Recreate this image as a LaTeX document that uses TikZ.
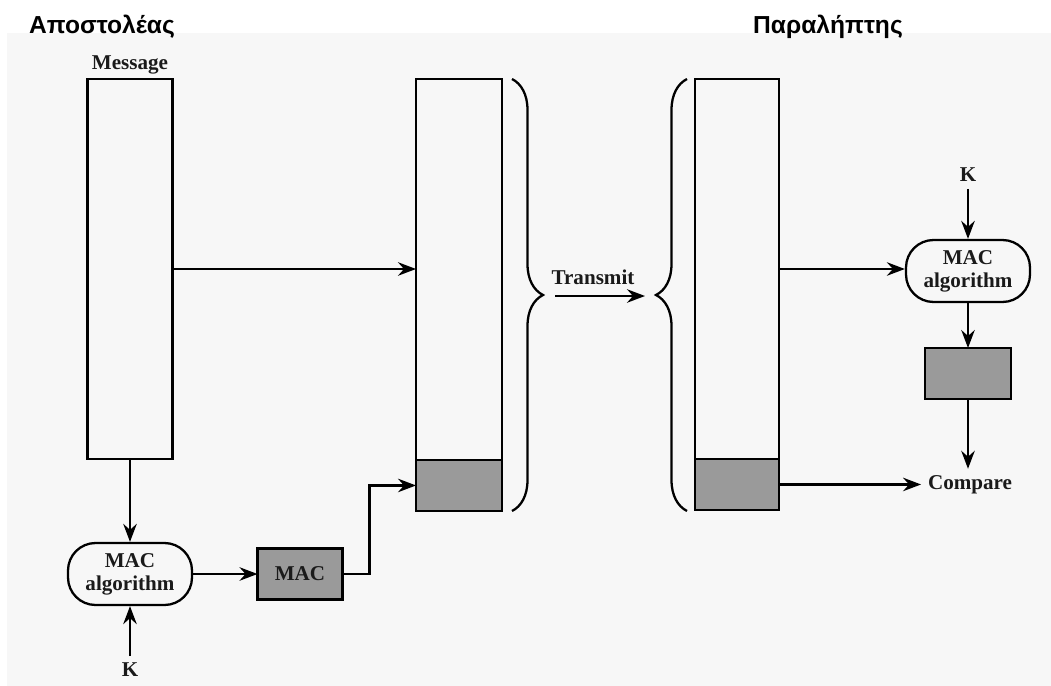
\documentclass[tikz,border=0pt]{standalone}
\usepackage{fontspec}
\setmainfont{Liberation Serif}
\newfontfamily\headfont{Liberation Sans}
\usetikzlibrary{arrows.meta,decorations.pathreplacing,positioning}
\definecolor{panel}{HTML}{F7F7F7}
\definecolor{macgray}{HTML}{9A9A9A}
\definecolor{ink}{HTML}{1A1A1A}

\begin{document}
\begin{tikzpicture}[x=0.02cm, y=-0.02cm, line width=1.3pt,
  every node/.style={font=\fontsize{12}{13}\selectfont\bfseries, text=ink, align=center},
  box/.style={draw, outer sep=0pt, minimum width=1.7cm},
  tagbox/.style={box, fill=macgray, minimum height=1.02cm},
  algo/.style={draw, rounded corners=0.55cm, minimum width=2.48cm, minimum height=1.24cm, inner sep=2pt},
  arr/.style={-{Stealth[length=3.6mm, width=2.7mm, inset=1.2mm]}},
  brace/.style={decorate, decoration={brace, amplitude=0.62cm}}]
\useasboundingbox (0,0) rectangle (1051,686);
\fill[panel] (7,33) rectangle (1051,686);

% side labels
\node[font=\headfont\bfseries\fontsize{14}{16}\selectfont, text=black] (sender) at (102,27) {Αποστολέας};
\node[font=\headfont\bfseries\fontsize{14}{16}\selectfont, text=black] (receiver) at (828,27) {Παραλήπτης};

% sender side
\node (msglabel) at (130,65) {Message};
\node[box, minimum height=7.6cm] (msg) at (130,269) {};
\node[algo] (algo1) at (130,574) {MAC\\algorithm};
\node (k1) at (130,670) {K};
\node[tagbox] (mac) at (300,574) {MAC};

% transmitted message + MAC
\node[box, minimum width=1.72cm, minimum height=7.62cm] (body1) at (459,269.5) {};
\node[tagbox, minimum width=1.72cm, anchor=north] (tag1) at (body1.south) {};
\draw[brace] (512,79) -- (512,511);
\coordinate (out1) at (555,296);
\coordinate (in2) at (645,296);
\node (tx) at (593,277) {Transmit};
\draw[brace] (687,511) -- (687,79);
\node[box, minimum width=1.68cm, minimum height=7.6cm] (body2) at (737,269) {};
\node[tagbox, minimum width=1.68cm, anchor=north] (tag2) at (body2.south) {};

% receiver side
\node (k2) at (968,175) {K};
\node[algo] (algo2) at (968,271) {MAC\\algorithm};
\node[tagbox, minimum width=1.72cm] (check) at (968,373.5) {};
\node (cmp) at (970,485) {Compare};

\draw[arr] (msg.south) -- (algo1.north);
\draw[arr] (k1) -- (algo1.south);
\draw[arr] (algo1) -- (mac);
\draw[arr] (mac.east) -- ++(27,0) |- (tag1.west);
\draw[arr] (msg.east) -- (msg.east -| body1.west);
\draw[arr] (out1) -- (in2);
\draw[arr] (body2.east) -- (body2.east -| algo2.west);
\draw[arr] (k2) -- (algo2);
\draw[arr] (algo2) -- (check);
\draw[arr] (check.south) -- (check.south |- cmp.north);
\draw[arr] (tag2.east) -- (tag2.east -| cmp.west);
\end{tikzpicture}
\end{document}
